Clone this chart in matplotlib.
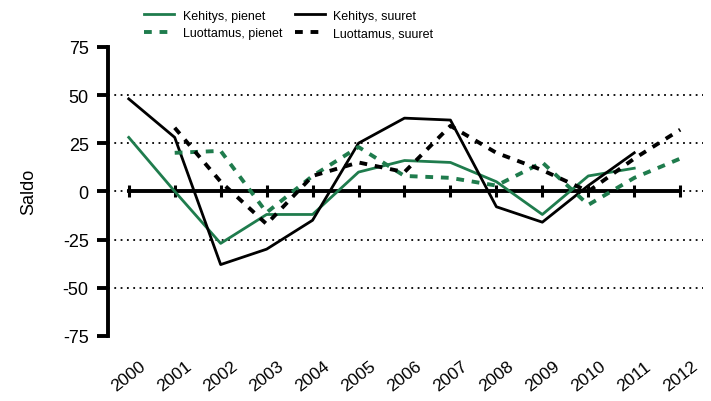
import matplotlib.pyplot as plt

plt.rcParams['font.family'] = ['Liberation Sans', 'DejaVu Sans']

# data
years = [2000, 2001, 2002, 2003, 2004, 2005, 2006, 2007, 2008, 2009, 2010, 2011, 2012]
kehitys_pienet_x = years[:12]
kehitys_pienet = [28, 0, -27, -12, -12, 10, 16, 15, 5, -12, 8, 12]
kehitys_suuret_x = years[:12]
kehitys_suuret = [48, 28, -38, -30, -15, 25, 38, 37, -8, -16, 3, 20]
luottamus_pienet_x = years[1:]
luottamus_pienet = [20, 21, -11, 8, 23, 8, 7, 3, 15, -7, 7, 17]
luottamus_suuret_x = years[1:]
luottamus_suuret = [33, 5, -17, 8, 15, 10, 34, 20, 11, 0, 17, 32]
yticks = [-75, -50, -25, 0, 25, 50, 75]

green = '#1f7c4d'

fig = plt.figure(figsize=(7.11, 4.02), dpi=100)
ax = fig.add_axes([0.152, 0.162, 0.837, 0.719])

# dotted grid lines
for y in [-50, -25, 0, 25, 50]:
    ax.axhline(y, color='black', linestyle=(0, (1, 2.5)), linewidth=1.3, zorder=1)

# zero axis with year ticks
ax.plot([years[0], years[-1]], [0, 0], color='black', linewidth=2.8, zorder=2)
ax.plot(years, [0] * len(years), linestyle='none', marker='|', markersize=9,
        markeredgewidth=2.2, color='black', zorder=2)

l1, = ax.plot(kehitys_pienet_x, kehitys_pienet, color=green, linewidth=2, zorder=3)
l3, = ax.plot(kehitys_suuret_x, kehitys_suuret, color='black', linewidth=2, zorder=3)
l2, = ax.plot(luottamus_pienet_x, luottamus_pienet, color=green, linewidth=2.8,
              linestyle=(0, (2, 2)), zorder=3)
l4, = ax.plot(luottamus_suuret_x, luottamus_suuret, color='black', linewidth=2.8,
              linestyle=(0, (2, 2)), zorder=3)

ax.set_xlim(1999.55, 2012.5)
ax.set_ylim(-75, 75)
ax.set_yticks(yticks)
ax.set_yticklabels([str(v) for v in yticks], fontsize=13)
ax.tick_params(axis='y', length=8, width=2.8, direction='out', pad=6)
ax.set_xticks(years)
ax.set_xticklabels([str(y) for y in years], rotation=38, ha='center', fontsize=12.5)
ax.tick_params(axis='x', length=0, pad=16)

for s in ['top', 'right', 'bottom']:
    ax.spines[s].set_visible(False)
ax.spines['left'].set_linewidth(2.8)

ax.set_ylabel('Saldo', fontsize=13, labelpad=18)

fig.legend([l1, l2, l3, l4],
           ['Kehitys, pienet', 'Luottamus, pienet', 'Kehitys, suuret', 'Luottamus, suuret'],
           ncol=2, loc='upper left', bbox_to_anchor=(0.19, 0.995), frameon=False,
           fontsize=9, handlelength=2.4, handletextpad=0.7, columnspacing=1.0,
           labelspacing=0.45, borderaxespad=0.3)

fig.savefig('out.png', dpi=100)
